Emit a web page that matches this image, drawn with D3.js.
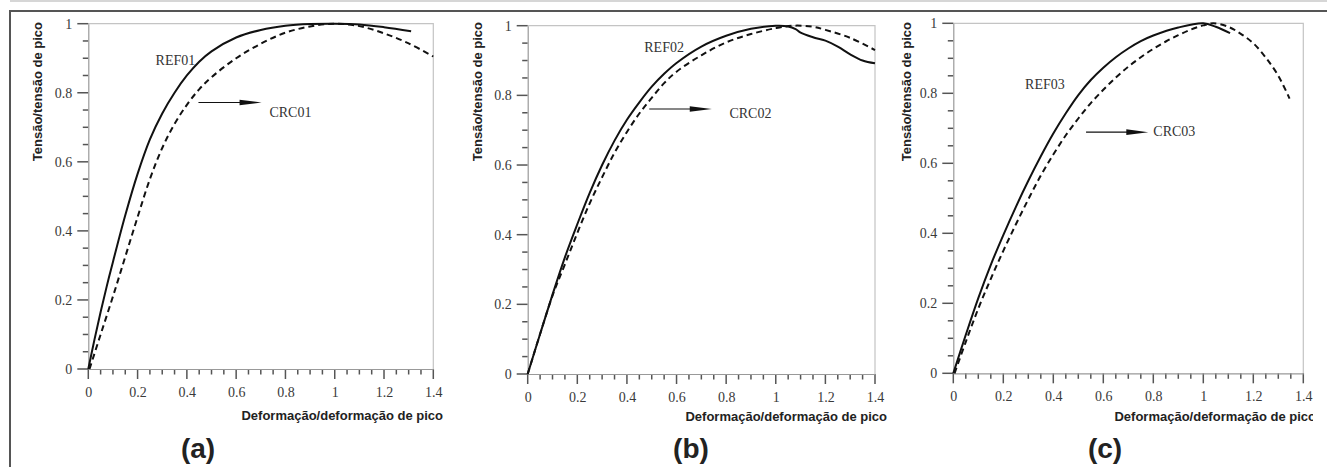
<!DOCTYPE html>
<html>
<head>
<meta charset="utf-8">
<script src="https://cdn.jsdelivr.net/npm/d3@7"></script>
<style>
  html, body { margin: 0; padding: 0; background: #fff; }
  svg { display: block; }
</style>
</head>
<body>
<svg id="chart" width="1327" height="467"></svg>
<script>
// Normalised stress-strain curves: reference concrete (REF, solid) vs. recycled concrete (CRC, dashed)

// Panel (a)
const ref01Strain = [0, 0.025, 0.05, 0.075, 0.1, 0.15, 0.2, 0.25, 0.3, 0.35, 0.4, 0.45, 0.5, 0.6, 0.7, 0.8, 0.9, 1.0, 1.1, 1.2, 1.31];
const ref01Stress = [0, 0.085, 0.165, 0.24, 0.31, 0.445, 0.565, 0.665, 0.74, 0.80, 0.85, 0.89, 0.92, 0.96, 0.982, 0.994, 0.999, 1.0, 0.998, 0.99, 0.978];
const crc01Strain = [0.005, 0.05, 0.1, 0.15, 0.2, 0.25, 0.3, 0.35, 0.4, 0.45, 0.5, 0.6, 0.7, 0.8, 0.9, 1.0, 1.1, 1.2, 1.3, 1.4];
const crc01Stress = [0, 0.10, 0.21, 0.325, 0.44, 0.55, 0.64, 0.71, 0.765, 0.81, 0.845, 0.9, 0.942, 0.974, 0.992, 1.0, 0.993, 0.972, 0.943, 0.905];

// Panel (b)
const ref02Strain = [0, 0.05, 0.1, 0.15, 0.2, 0.25, 0.3, 0.35, 0.4, 0.45, 0.5, 0.55, 0.6, 0.7, 0.8, 0.9, 1.0, 1.05, 1.08, 1.1, 1.15, 1.2, 1.25, 1.3, 1.35, 1.4];
const ref02Stress = [0, 0.115, 0.228, 0.335, 0.43, 0.52, 0.60, 0.67, 0.73, 0.78, 0.825, 0.862, 0.893, 0.94, 0.971, 0.991, 1.0, 0.998, 0.99, 0.98, 0.967, 0.957, 0.94, 0.918, 0.9, 0.892];
const crc02Strain = [0, 0.05, 0.1, 0.15, 0.2, 0.25, 0.3, 0.35, 0.4, 0.45, 0.5, 0.55, 0.6, 0.7, 0.8, 0.9, 1.0, 1.07, 1.15, 1.2, 1.3, 1.4];
const crc02Stress = [0, 0.115, 0.225, 0.315, 0.405, 0.49, 0.565, 0.635, 0.695, 0.748, 0.793, 0.835, 0.868, 0.915, 0.952, 0.976, 0.993, 1.0, 0.997, 0.988, 0.965, 0.93];

// Panel (c)
const ref03Strain = [0, 0.05, 0.1, 0.15, 0.2, 0.25, 0.3, 0.35, 0.4, 0.45, 0.5, 0.55, 0.6, 0.65, 0.7, 0.75, 0.8, 0.9, 1.0, 1.05, 1.107];
const ref03Stress = [0, 0.11, 0.215, 0.31, 0.395, 0.475, 0.55, 0.62, 0.685, 0.743, 0.795, 0.838, 0.873, 0.903, 0.928, 0.949, 0.965, 0.988, 1.0, 0.99, 0.972];
const crc03Strain = [0.005, 0.05, 0.1, 0.15, 0.2, 0.25, 0.3, 0.35, 0.4, 0.45, 0.5, 0.55, 0.6, 0.65, 0.7, 0.75, 0.8, 0.85, 0.9, 0.95, 1.0, 1.04, 1.1, 1.15, 1.2, 1.25, 1.3, 1.345];
const crc03Stress = [0, 0.09, 0.185, 0.27, 0.35, 0.425, 0.497, 0.565, 0.625, 0.68, 0.728, 0.772, 0.81, 0.845, 0.876, 0.903, 0.927, 0.948, 0.966, 0.982, 0.994, 1.0, 0.99, 0.97, 0.943, 0.902, 0.85, 0.785];

// Axis ticks
const xMajorTicks = [0, 0.2, 0.4, 0.6, 0.8, 1.0, 1.2, 1.4];
const xTickLabels = ["0", "0.2", "0.4", "0.6", "0.8", "1", "1.2", "1.4"];
const yMajorTicks = [0, 0.2, 0.4, 0.6, 0.8, 1.0];
const yTickLabels = ["0", "0.2", "0.4", "0.6", "0.8", "1"];
const minorStep = 0.05;

const xTitle = "Deformação/deformação de pico";
const yTitle = "Tensão/tensão de pico";
const panelLetters = ["(a)", "(b)", "(c)"];
const refNames = ["REF01", "REF02", "REF03"];
const crcNames = ["CRC01", "CRC02", "CRC03"];

const zip = (xs, ys) => xs.map((x, i) => [x, ys[i]]);

const panels = [
  { left: 88.3, right: 433.3, bottom: 369, top: 23.7,
    ref: zip(ref01Strain, ref01Stress), crc: zip(crc01Strain, crc01Stress),
    arrow: [0.447, 0.703, 0.772], crcLabel: [0.735, 0.73], refLabel: [0.273, 0.88],
    yTitleX: 42, xTitleY: 419.5, xTitleEnd: 443, letterX: 198 },
  { left: 527.7, right: 875, bottom: 374, top: 25.7,
    ref: zip(ref02Strain, ref02Stress), crc: zip(crc02Strain, crc02Stress),
    arrow: [0.49, 0.742, 0.761], crcLabel: [0.813, 0.734], refLabel: [0.47, 0.925],
    yTitleX: 482, xTitleY: 421, xTitleEnd: 887, letterX: 691 },
  { left: 953.3, right: 1303.3, bottom: 373.3, top: 23.3,
    ref: zip(ref03Strain, ref03Stress), crc: zip(crc03Strain, crc03Stress),
    arrow: [0.531, 0.78, 0.689], crcLabel: [0.8, 0.678], refLabel: [0.287, 0.811],
    yTitleX: 911, xTitleY: 421, xTitleEnd: 1316, letterX: 1105 }
];

const svg = d3.select("#chart");
const serif = "'Liberation Serif', 'Times New Roman', serif";
const sans = "'Liberation Sans', Arial, sans-serif";
const tickColor = "#555";

// Page frame
svg.append("line").attr("x1", 10).attr("x2", 1327).attr("y1", 1).attr("y2", 1)
  .attr("stroke", "#c8c8c8").attr("stroke-width", 1.5);
svg.append("line").attr("x1", 9).attr("x2", 1327).attr("y1", 11).attr("y2", 11)
  .attr("stroke", "#555").attr("stroke-width", 2);
svg.append("line").attr("x1", 10).attr("x2", 10).attr("y1", 10).attr("y2", 467)
  .attr("stroke", "#555").attr("stroke-width", 2);

svg.append("defs").append("clipPath").attr("id", "pageClip")
  .append("rect").attr("x", 0).attr("y", 0).attr("width", 1313).attr("height", 467);

const minorX = d3.range(0, 1.4 + 1e-9, minorStep).map(v => +v.toFixed(2));
const minorY = d3.range(0, 1.0 + 1e-9, minorStep).map(v => +v.toFixed(2));
const isMajor = v => Math.abs(v * 5 - Math.round(v * 5)) < 1e-6;

panels.forEach((p, i) => {
  const x = d3.scaleLinear().domain([0, 1.4]).range([p.left, p.right]);
  const y = d3.scaleLinear().domain([0, 1]).range([p.bottom, p.top]);
  const g = svg.append("g");

  // Plot frame (top and right)
  g.append("path")
    .attr("d", `M${x(0)},${y(1)}H${x(1.4)}V${y(0)}`)
    .attr("fill", "none").attr("stroke", "#c4c4c4").attr("stroke-width", 1.2);

  // Tick marks every 0.05, longer at the labelled values
  g.append("g").selectAll("line").data(minorX).join("line")
    .attr("x1", d => x(d)).attr("x2", d => x(d))
    .attr("y1", y(0)).attr("y2", d => y(0) + (isMajor(d) ? 10 : 5.5))
    .attr("stroke", tickColor).attr("stroke-width", 1.5);
  g.append("g").selectAll("line").data(minorY).join("line")
    .attr("y1", d => y(d)).attr("y2", d => y(d))
    .attr("x1", x(0)).attr("x2", d => x(0) - (isMajor(d) ? 11 : 5.5))
    .attr("stroke", tickColor).attr("stroke-width", 1.5);

  // Axis lines and labels
  const xa = g.append("g").attr("transform", `translate(0,${y(0)})`)
    .call(d3.axisBottom(x).tickValues(xMajorTicks).tickSize(0).tickSizeOuter(0).tickPadding(18)
      .tickFormat((d, k) => xTickLabels[k]));
  const ya = g.append("g").attr("transform", `translate(${x(0)},0)`)
    .call(d3.axisLeft(y).tickValues(yMajorTicks).tickSize(0).tickSizeOuter(0).tickPadding(16)
      .tickFormat((d, k) => yTickLabels[k]));
  [xa, ya].forEach(a => {
    a.select(".domain").attr("stroke", "#999").attr("stroke-width", 1.2);
    a.selectAll("text").attr("font-family", serif)
      .attr("font-size", 14).attr("fill", "#3a3a3a");
  });

  // Curves
  const line = d3.line().x(d => x(d[0])).y(d => y(d[1])).curve(d3.curveCatmullRom.alpha(0.5));
  g.append("path").datum(p.ref).attr("d", line)
    .attr("fill", "none").attr("stroke", "#111").attr("stroke-width", 2);
  g.append("path").datum(p.crc).attr("d", line)
    .attr("fill", "none").attr("stroke", "#111").attr("stroke-width", 2)
    .attr("stroke-dasharray", "6,4");

  // Arrow pointing to the CRC label
  const [ax0, ax1, ay] = p.arrow;
  const xs = x(ax0), xe = x(ax1), yy = y(ay);
  g.append("line").attr("x1", xs).attr("x2", xe - 18).attr("y1", yy).attr("y2", yy)
    .attr("stroke", "#111").attr("stroke-width", 1.1);
  g.append("path")
    .attr("d", `M${xe},${yy}L${xe - 22},${yy - 2.8}L${xe - 22},${yy + 2.8}Z`)
    .attr("fill", "#111");

  g.append("text").attr("x", x(p.crcLabel[0])).attr("y", y(p.crcLabel[1]))
    .attr("font-family", serif).attr("font-size", 14).attr("fill", "#333")
    .text(crcNames[i]);
  g.append("text").attr("x", x(p.refLabel[0])).attr("y", y(p.refLabel[1]))
    .attr("font-family", serif).attr("font-size", 14).attr("fill", "#333")
    .text(refNames[i]);

  // Axis titles
  g.append("text")
    .attr("transform", `translate(${p.yTitleX},22) rotate(-90)`)
    .attr("text-anchor", "end")
    .attr("font-family", sans).attr("font-weight", "bold").attr("font-size", 13)
    .attr("fill", "#222").text(yTitle);
  g.append("text")
    .attr("x", p.xTitleEnd).attr("y", p.xTitleY).attr("text-anchor", "end")
    .attr("clip-path", "url(#pageClip)")
    .attr("font-family", sans).attr("font-weight", "bold").attr("font-size", 13)
    .attr("fill", "#222").text(xTitle);

  // Panel letter
  g.append("text")
    .attr("x", p.letterX).attr("y", 458).attr("text-anchor", "middle")
    .attr("font-family", sans).attr("font-weight", "bold").attr("font-size", 28)
    .attr("fill", "#222").text(panelLetters[i]);
});
</script>
</body>
</html>
